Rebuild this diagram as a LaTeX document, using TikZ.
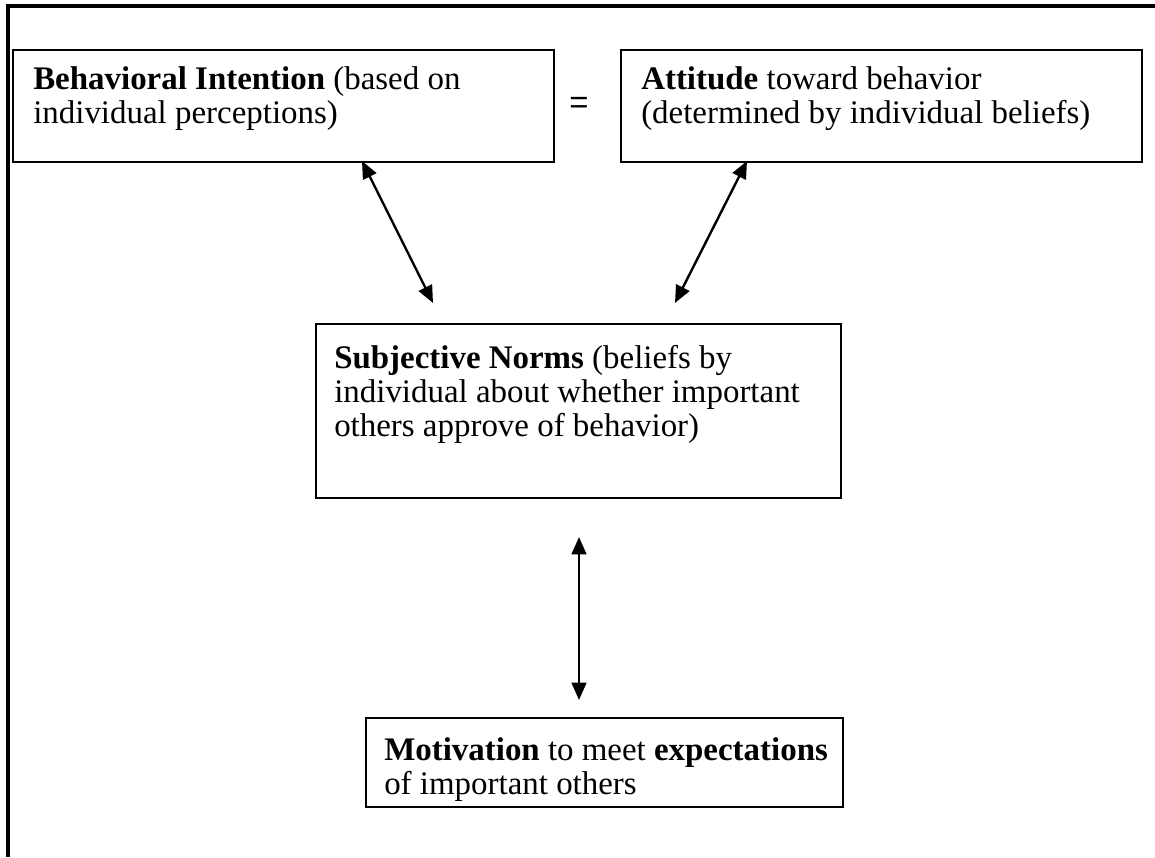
\documentclass[tikz,border=0pt]{standalone}
\usepackage{fontspec}
\setmainfont{Liberation Serif}
\newfontfamily\eqfont{Liberation Sans}
\usetikzlibrary{arrows.meta}
\tikzset{
  box/.style={draw, line width=1.4pt, inner sep=0pt, anchor=north west},
  txt/.style={anchor=base west, inner sep=0pt, font=\fontsize{24.7pt}{26pt}\selectfont},
  link/.style={line width=1.8pt, {Triangle[length=13pt,width=11pt]}-{Triangle[length=13pt,width=11pt]}},
  frame/.style={line width=2.4pt}
}
\begin{document}
\begin{tikzpicture}[x=0.75pt,y=-0.75pt]
\useasboundingbox (0,0) rectangle (1155,857);
% outer frame (top and left edges)
\coordinate (fbl) at (8,857);
\coordinate (ftl) at (8,6);
\coordinate (ftr) at (1155,6);
\draw[frame] (fbl) -- (ftl) -- (ftr);
% boxes
\node[box, minimum width=405.75pt, minimum height=84pt] (bi) at (12,49) {};
\node[box, minimum width=390.75pt, minimum height=84pt] (at) at (620,49) {};
\node[box, minimum width=393.75pt, minimum height=130.5pt] (sn) at (315,323) {};
\node[box, minimum width=357.75pt, minimum height=66.75pt] (mo) at (365,717) {};
% texts
\node[txt] (bi1) at (33,89) {\textbf{Behavioral Intention} (based on};
\node[txt] (bi2) at (33,123) {individual perceptions)};
\node[txt] (at1) at (641,89) {\textbf{Attitude} toward behavior};
\node[txt] (at2) at (641,123) {(determined by individual beliefs)};
\node[txt] (sn1) at (334,368) {\textbf{Subjective Norms} (beliefs by};
\node[txt] (sn2) at (334,402) {individual about whether important};
\node[txt] (sn3) at (334,436) {others approve of behavior)};
\node[txt] (mo1) at (384,760) {\textbf{Motivation} to meet \textbf{expectations}};
\node[txt] (mo2) at (384,794) {of important others};
\node[inner sep=0pt, font=\eqfont\fontsize{24.7pt}{26pt}\selectfont] (eq) at (579,105) {=};
% arrows
\coordinate (a1t) at (362,161);
\coordinate (a1b) at (433,303);
\coordinate (a2t) at (747,161);
\coordinate (a2b) at (675,303);
\coordinate (a3t) at (579,537);
\coordinate (a3b) at (579,700);
\draw[link] (a1t) -- (a1b);
\draw[link] (a2t) -- (a2b);
\draw[link] (a3t) -- (a3b);
\end{tikzpicture}
\end{document}
